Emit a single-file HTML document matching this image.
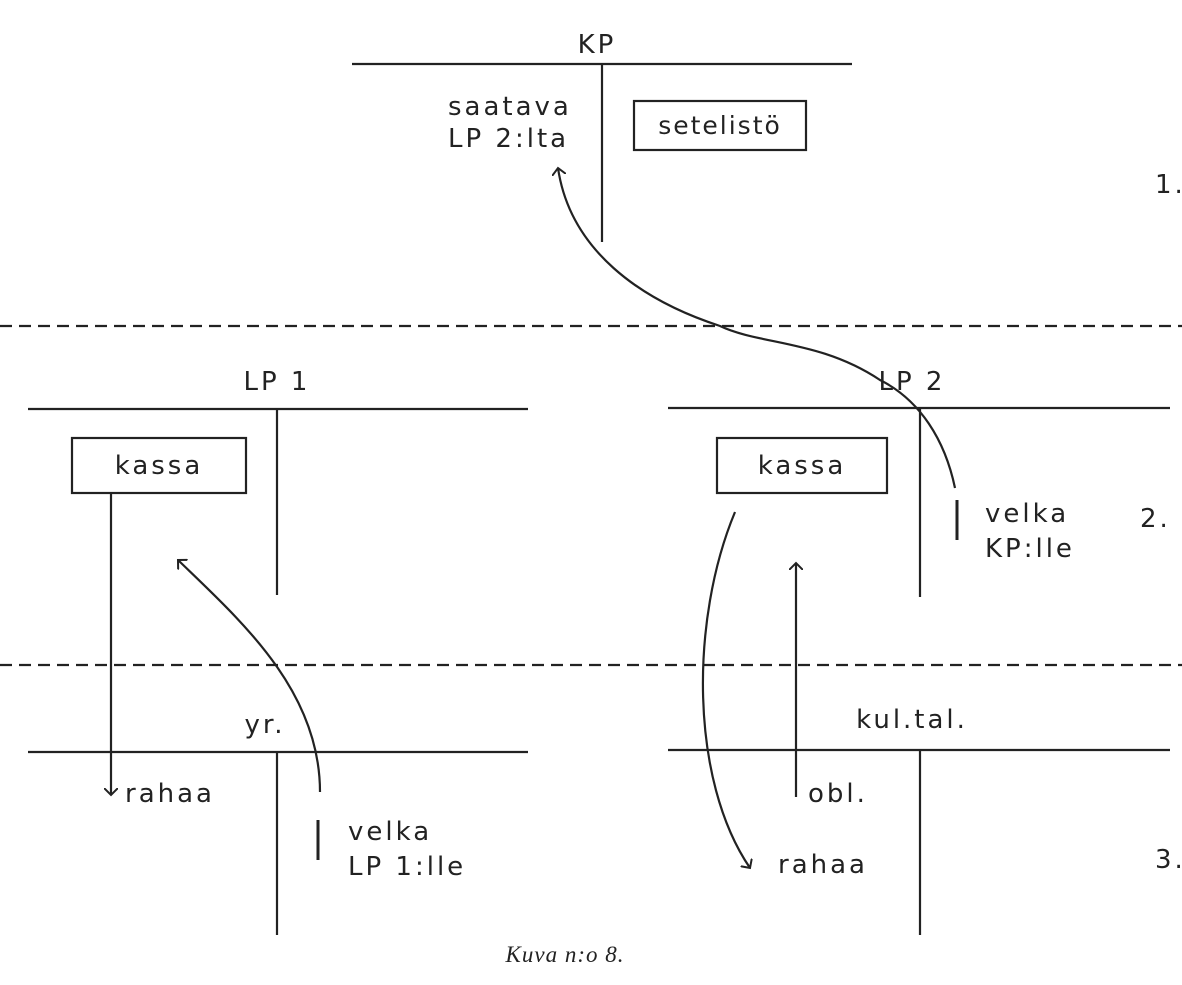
<!DOCTYPE html>
<html><head><meta charset="utf-8"><style>
html,body{margin:0;padding:0;background:#fff;}
svg{display:block}
text{font-family:"DejaVu Sans","Liberation Sans",sans-serif;fill:#222;font-size:26px;letter-spacing:3px}
</style></head><body>
<svg width="1182" height="985" viewBox="0 0 1182 985" xmlns="http://www.w3.org/2000/svg">
<defs><marker id="a" markerWidth="14" markerHeight="14" refX="7" refY="7" orient="auto" markerUnits="userSpaceOnUse"><path d="M0,0 L7,7 L0,14" fill="none" stroke="#222" stroke-width="2"/></marker></defs>
<g stroke="#222" stroke-width="2.2" fill="none">
<line x1="352" y1="64" x2="852" y2="64"/><line x1="602" y1="64" x2="602" y2="242"/>
<rect x="634" y="101" width="172" height="49"/>
<line x1="0" y1="326" x2="1182" y2="326" stroke-dasharray="12,7"/>
<line x1="28" y1="409" x2="528" y2="409"/><line x1="277" y1="409" x2="277" y2="595"/>
<rect x="72" y="438" width="174" height="55"/>
<line x1="668" y1="408" x2="1170" y2="408"/><line x1="920" y1="408" x2="920" y2="597"/>
<rect x="717" y="438" width="170" height="55"/>
<line x1="957" y1="500" x2="957" y2="540" stroke-width="3"/>
<line x1="0" y1="665" x2="1182" y2="665" stroke-dasharray="12,7"/>
<line x1="28" y1="752" x2="528" y2="752"/><line x1="277" y1="752" x2="277" y2="935"/>
<line x1="668" y1="750" x2="1170" y2="750"/><line x1="920" y1="750" x2="920" y2="935"/>
<line x1="111" y1="493" x2="111" y2="795" marker-end="url(#a)"/>
<line x1="318" y1="820" x2="318" y2="860" stroke-width="3"/>
<line x1="796" y1="797" x2="796" y2="563" marker-end="url(#a)"/>
<path d="M735,512 C690,620 690,780 750,868" marker-end="url(#a)"/>
<path d="M320,792 C320,690 240,620 178,560" marker-end="url(#a)"/>
<path d="M955,488 C945,440 920,400 880,380 C820,340 760,345 720,326 C640,300 570,250 558,168" marker-end="url(#a)"/>
</g>
<text x="597" y="53" text-anchor="middle" font-size="28">KP</text>
<text x="448" y="115">saatava</text>
<text x="448" y="147">LP 2:lta</text>
<text x="720" y="134" text-anchor="middle" style="font-size:25px;letter-spacing:2px">setelistö</text>
<text x="1155" y="193">1.</text>
<text x="277" y="390" text-anchor="middle" font-size="28">LP 1</text>
<text x="912" y="390" text-anchor="middle" font-size="28">LP 2</text>
<text x="159" y="474" text-anchor="middle">kassa</text>
<text x="802" y="474" text-anchor="middle">kassa</text>
<text x="985" y="522">velka</text>
<text x="985" y="557">KP:lle</text>
<text x="1140" y="527">2.</text>
<text x="265" y="733" text-anchor="middle">yr.</text>
<text x="912" y="728" text-anchor="middle">kul.tal.</text>
<text x="125" y="802">rahaa</text>
<text x="808" y="802">obl.</text>
<text x="348" y="840">velka</text>
<text x="348" y="875">LP 1:lle</text>
<text x="778" y="873">rahaa</text>
<text x="1155" y="868">3.</text>
<text x="565" y="962" text-anchor="middle" style="font-family:'Liberation Serif',serif;font-style:italic;font-size:23px;letter-spacing:1px">Kuva n:o 8.</text>
</svg>
</body></html>
